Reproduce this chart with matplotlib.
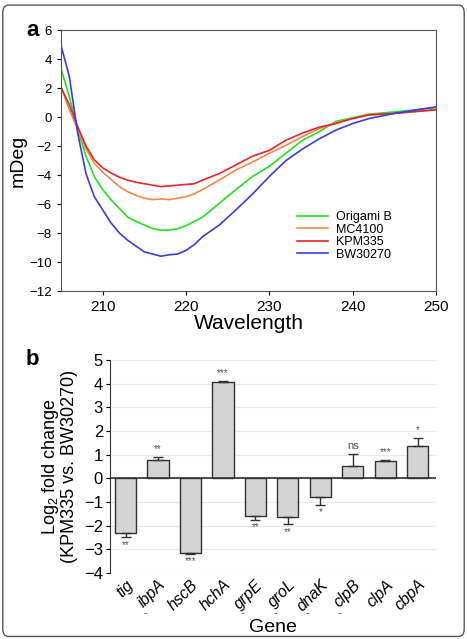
import matplotlib
matplotlib.use("Agg")
import matplotlib.pyplot as plt
from matplotlib.patches import FancyBboxPatch
import numpy as np

plt.rcParams['font.family'] = ['Liberation Sans', 'DejaVu Sans']
plt.rcParams['mathtext.fontset'] = 'custom'
plt.rcParams['mathtext.rm'] = 'Liberation Sans'

# panel a - CD spectra
wavelength = [205, 206, 207, 208, 209, 210, 211, 212, 213, 214, 215, 216, 217, 218, 219,
              220, 221, 222, 224, 226, 228, 230, 232, 234, 236, 238, 240, 242, 245, 250]
origami_b = [3.35, 1.4, -0.8, -2.7, -4.1, -5.0, -5.7, -6.3, -6.9, -7.2, -7.45, -7.7, -7.8, -7.8, -7.7,
             -7.5, -7.2, -6.9, -5.95, -5.0, -4.1, -3.4, -2.5, -1.6, -1.0, -0.3, -0.05, 0.2, 0.35, 0.65]
mc4100 = [2.1, 0.5, -0.8, -2.2, -3.2, -3.8, -4.3, -4.8, -5.15, -5.4, -5.6, -5.7, -5.65, -5.7, -5.6,
          -5.5, -5.3, -5.0, -4.35, -3.65, -3.1, -2.5, -1.95, -1.35, -0.8, -0.4, -0.1, 0.15, 0.25, 0.5]
kpm335 = [2.05, 0.85, -0.65, -2.0, -2.95, -3.5, -3.85, -4.15, -4.35, -4.5, -4.6, -4.7, -4.8, -4.75, -4.7,
          -4.65, -4.6, -4.35, -3.9, -3.3, -2.7, -2.3, -1.6, -1.1, -0.7, -0.45, -0.1, 0.15, 0.25, 0.5]
bw30270 = [4.95, 2.8, -1.1, -3.9, -5.5, -6.4, -7.3, -8.0, -8.5, -8.9, -9.3, -9.45, -9.6, -9.5, -9.45,
           -9.2, -8.8, -8.25, -7.45, -6.4, -5.3, -4.1, -3.0, -2.2, -1.5, -0.9, -0.45, -0.1, 0.25, 0.7]

# panel b - qPCR fold change
genes = ["tig", "ibpA", "hscB", "hchA", "grpE", "groL", "dnaK", "clpB", "clpA", "cbpA"]
log2fc = [-2.3, 0.78, -3.15, 4.05, -1.6, -1.65, -0.8, 0.52, 0.75, 1.35]
err = [0.2, 0.12, 0.05, 0.06, 0.15, 0.3, 0.32, 0.5, 0.03, 0.37]
signif = ["**", "**", "***", "***", "**", "**", "*", "ns", "***", "*"]
dashed = ["ibpA", "grpE", "groL", "dnaK", "clpB"]

fig = plt.figure(figsize=(4.67, 6.39), dpi=100)
fig.patches.append(FancyBboxPatch((0.006, 0.004), 0.988, 0.988, boxstyle="round,pad=0,rounding_size=0.012",
                                  transform=fig.transFigure, fill=False, edgecolor="#555555", linewidth=1.0))

# ---- a ----
ax1 = fig.add_axes([0.1306, 0.5446, 0.803, 0.4084])
ax1.plot(wavelength, origami_b, color="#22e022", lw=1.2, label="Origami B")
ax1.plot(wavelength, mc4100, color="#f4874a", lw=1.2, label="MC4100")
ax1.plot(wavelength, kpm335, color="#e8242a", lw=1.2, label="KPM335")
ax1.plot(wavelength, bw30270, color="#3b3be6", lw=1.2, label="BW30270")
ax1.set_xlim(205, 250)
ax1.set_ylim(-12, 6)
ax1.set_xticks([210, 220, 230, 240, 250])
ax1.set_yticks(np.arange(-12, 7, 2))
ax1.tick_params(axis="x", labelsize=11, direction="out", length=3)
ax1.tick_params(axis="y", labelsize=9.5, direction="out", length=3)
for s in ax1.spines.values():
    s.set_color("#555555")
ax1.set_xlabel("Wavelength", fontsize=15, labelpad=0)
ax1.set_ylabel("mDeg", fontsize=14, labelpad=2)
ax1.legend(loc="upper left", bbox_to_anchor=(0.6, 0.35), frameon=False, fontsize=9,
           handlelength=2.5, labelspacing=0.05, handletextpad=0.6)
fig.text(0.07, 0.953, "a", fontsize=16, fontweight="bold", va="center", ha="center")

# ---- b ----
ax2 = fig.add_axes([0.2355, 0.1033, 0.698, 0.3333])
x = np.arange(len(genes))
ax2.set_axisbelow(True)
ax2.yaxis.grid(True, color="#e8e8e8", lw=0.8)
ax2.bar(x, log2fc, width=0.65, color="#d4d4d4", edgecolor="#333333", linewidth=1.0, zorder=2)
lower = [e if v < 0 else 0 for v, e in zip(log2fc, err)]
upper = [e if v > 0 else 0 for v, e in zip(log2fc, err)]
ax2.errorbar(x, log2fc, yerr=[lower, upper], fmt="none", ecolor="#333333", elinewidth=1.0,
             capsize=3.5, capthick=1.0, zorder=3)
ax2.axhline(0, color="#333333", lw=1.2, zorder=4)
for i, (v, e, s) in enumerate(zip(log2fc, err, signif)):
    fs = 8 if s == "ns" else 7
    if v > 0:
        ax2.text(i, v + e + 0.12, s, ha="center", va="bottom", fontsize=fs, color="#555555")
    else:
        ax2.text(i, v - e - 0.1, s, ha="center", va="top", fontsize=fs, color="#555555")
ax2.set_xlim(-0.48, 9.56)
ax2.set_ylim(-4, 5)
ax2.set_yticks(np.arange(-4, 6, 1))
ax2.set_xticks(x)
ax2.set_xticklabels(genes, rotation=45, ha="right", rotation_mode="anchor", fontsize=11.5, style="italic")
ax2.tick_params(axis="x", length=0, pad=3)
ax2.tick_params(axis="y", labelsize=12, direction="out", length=3, pad=2)
for side in ["top", "right", "bottom"]:
    ax2.spines[side].set_visible(False)
ax2.spines["left"].set_color("#333333")
for g in dashed:
    i = genes.index(g)
    ax2.text(i - 0.4, -0.19, "-", transform=ax2.get_xaxis_transform(), ha="center", va="center",
             fontsize=8, color="#444444")
ax2.set_ylabel("Log$_2$ fold change\n(KPM335 vs. BW30270)", fontsize=13, labelpad=4, linespacing=1.05)
fig.text(0.584, 0.018, "Gene", fontsize=14, ha="center", va="center")
fig.text(0.07, 0.438, "b", fontsize=16, fontweight="bold", va="center", ha="center")

fig.savefig("out.png", dpi=100)
